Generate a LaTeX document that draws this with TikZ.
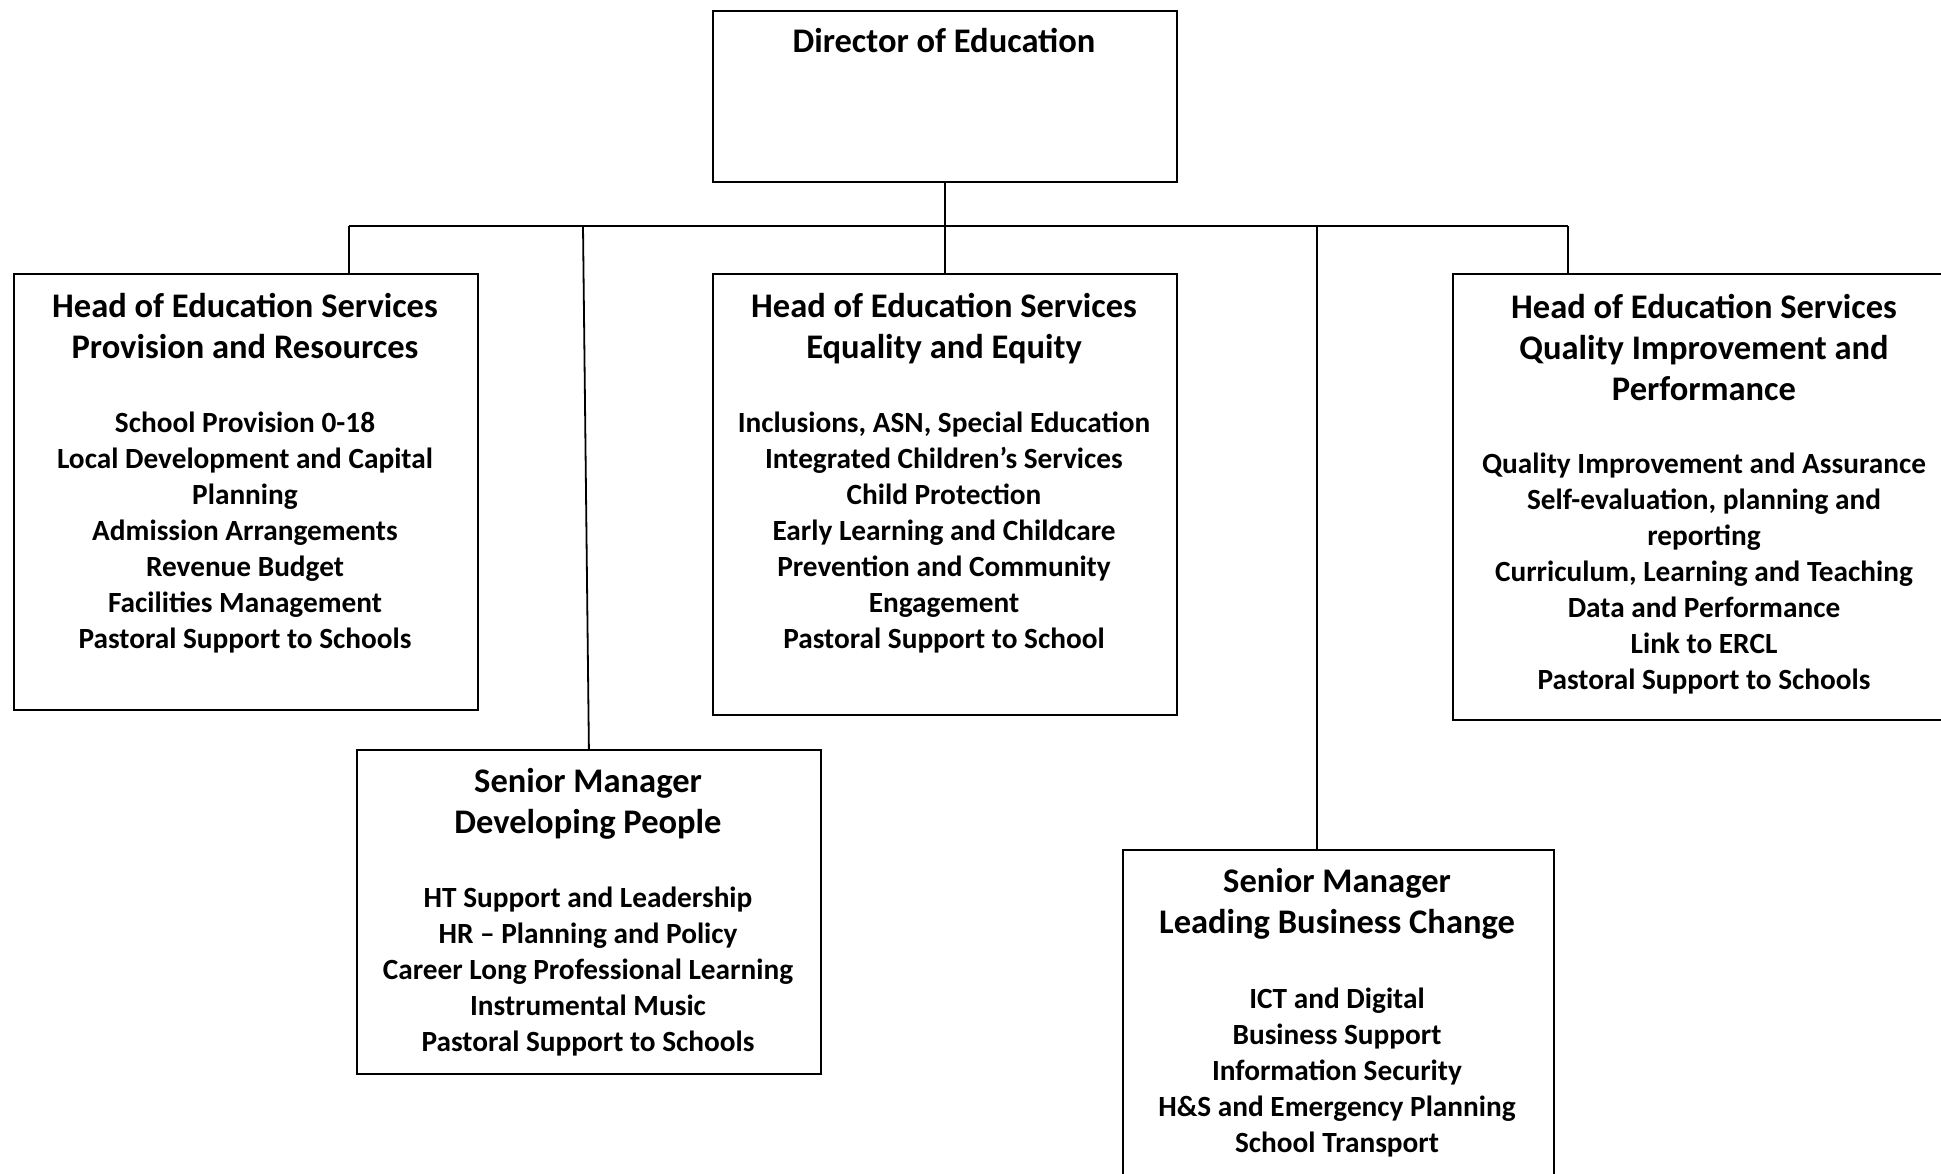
\documentclass[tikz,border=0pt]{standalone}
\usepackage{fontspec}
\setmainfont{Carlito}
\begin{document}
\begin{tikzpicture}[x=1pt,y=-1pt,
  box/.style={draw=black, line width=1.8pt, rectangle, inner sep=0pt, anchor=north west},
  ttl/.style={align=center, anchor=base, inner sep=0pt, font=\bfseries\fontsize{34.5}{41}\selectfont},
  bdy/.style={align=center, anchor=base, inner sep=0pt, font=\bfseries\fontsize{29.3}{36}\selectfont},
  conn/.style={draw=black, line width=1.8pt}]
\useasboundingbox (0,0) rectangle (1941,1174);
\clip (0,0) rectangle (1941,1174);
\fill[white] (0,0) rectangle (1941,1174);

% boxes
\node[box, minimum width=464pt, minimum height=171pt] (dir) at (712,10) {};
\node[box, minimum width=464pt, minimum height=436pt] (hp) at (13,273) {};
\node[box, minimum width=464pt, minimum height=441pt] (he) at (712,273) {};
\node[box, minimum width=520pt, minimum height=446pt] (hq) at (1452,273) {};
\node[box, minimum width=464pt, minimum height=324pt] (sdp) at (356,749) {};
\node[box, minimum width=431pt, minimum height=360pt] (slb) at (1122,849) {};

% texts (anchor = baseline of the last line)
\node[ttl] (tdir) at (944,53) {Director of Education};

\node[ttl] (thp) at (245,358) {Head of Education Services\\Provision and Resources};
\node[bdy] (bhp) at (245,648) {School Provision 0-18\\Local Development and Capital\\Planning\\Admission Arrangements\\Revenue Budget\\Facilities Management\\Pastoral Support to Schools};

\node[ttl] (the) at (944,358) {Head of Education Services\\Equality and Equity};
\node[bdy] (bhe) at (944,648) {Inclusions, ASN, Special Education\\Integrated Children’s Services\\Child Protection\\Early Learning and Childcare\\Prevention and Community\\Engagement\\Pastoral Support to School};

\node[ttl] (thq) at (1704,400) {Head of Education Services\\Quality Improvement and\\Performance};
\node[bdy] (bhq) at (1704,689) {Quality Improvement and Assurance\\Self-evaluation, planning and\\reporting\\Curriculum, Learning and Teaching\\Data and Performance\\Link to ERCL\\Pastoral Support to Schools};

\node[ttl] (tsdp) at (588,833) {Senior Manager\\Developing People};
\node[bdy] (bsdp) at (588,1051) {HT Support and Leadership\\HR – Planning and Policy\\Career Long Professional Learning\\Instrumental Music\\Pastoral Support to Schools};

\node[ttl] (tslb) at (1337,933) {Senior Manager\\Leading Business Change};
\node[bdy] (bslb) at (1337,1152) {ICT and Digital\\Business Support\\Information Security\\H\&S and Emergency Planning\\School Transport};

% connectors
\coordinate (busL) at (349,226);
\coordinate (busR) at (1568,226);
\coordinate (bDP) at (583,226);
\coordinate (bLB) at (1317,226);
\draw[conn] (busL) -- (busR);
\draw[conn] (dir.south) -- (he.north);
\draw[conn] (busL) -- (busL |- hp.north);
\draw[conn] (busR) -- (busR |- hq.north);
\draw[conn] (bDP) -- (sdp.north);
\draw[conn] (bLB) -- (bLB |- slb.north);
\end{tikzpicture}
\end{document}
